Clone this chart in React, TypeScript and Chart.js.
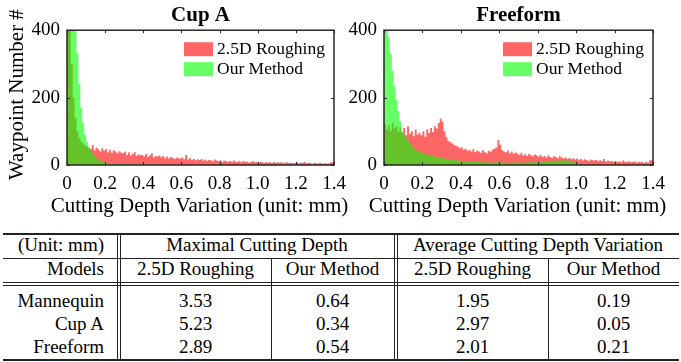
import React, { useEffect, useRef } from "react";
import { Chart, registerables } from "chart.js";

Chart.register(...registerables);

// ---------- data ----------
const BIN_WIDTH = 0.01; // histogram bin width (mm), bins start at 0
const X_TICK_STEP = 0.2;
const X_MAX = 1.4;
const Y_MAX = 400;
const Y_TICK_STEP = 200;

const SERIES_NAMES = ["2.5D Roughing", "Our Method"];
const CHART_TITLES = ["Cup A", "Freeform"];
const X_TITLE = "Cutting Depth Variation (unit: mm)";
const Y_TITLE = "Waypoint Number #";

// Cup A histograms (counts per 0.01 mm bin, 0 .. 1.4)
const cupRough = [
  600, 560, 470, 300, 200, 140, 100, 80, 70, 64,
  58, 55, 50, 48, 59, 44, 52, 47, 40, 50,
  42, 48, 38, 45, 36, 44, 40, 34, 41, 37,
  35, 40, 30, 37, 28, 33, 38, 27, 31, 29,
  30, 26, 33, 24, 29, 35, 22, 27, 25, 28,
  23, 27, 20, 25, 19, 24, 21, 18, 22, 20,
  19, 22, 17, 30, 16, 20, 15, 18, 14, 17,
  15, 18, 13, 16, 12, 15, 14, 11, 16, 13,
  12, 14, 10, 13, 11, 9, 12, 10, 13, 9,
  10, 11, 8, 12, 9, 10, 7, 9, 11, 8,
  9, 7, 10, 8, 6, 9, 7, 8, 6, 9,
  7, 8, 6, 9, 5, 7, 8, 6, 7, 5,
  6, 8, 5, 7, 6, 9, 5, 6, 7, 4,
  5, 6, 4, 7, 5, 4, 6, 3, 5, 8,
];
const cupOurs = [
  700, 800, 750, 650, 550, 450, 330, 240, 170, 125,
  90, 68, 55, 44, 35, 26, 20, 15, 12, 10,
  8, 7, 6, 6, 5, 5, 4, 4, 3, 4,
  3, 3, 2, 3, 2, 2, 2, 1, 2, 1,
  1, 1, 1, 2, 1, 1, 1, 0, 1, 1,
  1, 0, 1, 0, 1, 0, 0, 1, 0, 0,
  0, 0, 0, 0, 0, 0, 0, 0, 0, 0,
  0, 0, 0, 0, 0, 0, 0, 0, 0, 0,
  0, 0, 0, 0, 0, 0, 0, 0, 0, 0,
  0, 0, 0, 0, 0, 0, 0, 0, 0, 0,
  0, 0, 0, 0, 0, 0, 0, 0, 0, 0,
  0, 0, 0, 0, 0, 0, 0, 0, 0, 0,
  0, 0, 0, 0, 0, 0, 0, 0, 0, 0,
  0, 0, 0, 0, 0, 0, 0, 0, 0, 0,
];

// Freeform histograms
const freeRough = [
  110, 122, 105, 118, 100, 125, 108, 115, 98, 112,
  95, 110, 88, 115, 92, 100, 85, 105, 90, 96,
  88, 100, 84, 105, 95, 110, 98, 115, 108, 125,
  138, 128, 100, 82, 72, 68, 64, 60, 57, 54,
  50, 53, 46, 48, 42, 45, 40, 47, 38, 43,
  40, 36, 44, 38, 35, 42, 39, 45, 48, 52,
  74, 60, 44, 40, 38, 43, 35, 40, 33, 37,
  34, 30, 36, 28, 32, 27, 33, 29, 26, 31,
  28, 25, 30, 24, 27, 22, 29, 24, 21, 26,
  24, 20, 26, 22, 19, 23, 18, 21, 17, 20,
  16, 19, 14, 18, 13, 17, 15, 12, 16, 14,
  13, 15, 11, 14, 12, 18, 10, 13, 11, 12,
  10, 12, 9, 11, 8, 13, 10, 9, 11, 8,
  9, 11, 7, 10, 8, 9, 6, 10, 7, 14,
];
const freeOurs = [
  650, 560, 450, 380, 330, 280, 235, 195, 160, 130,
  100, 90, 80, 72, 64, 56, 50, 45, 42, 39,
  37, 35, 34, 31, 30, 28, 27, 25, 24, 23,
  21, 20, 19, 18, 17, 16, 15, 15, 14, 13,
  12, 11, 12, 10, 11, 10, 9, 10, 9, 9,
  9, 8, 9, 8, 7, 8, 7, 8, 7, 8,
  8, 7, 9, 7, 8, 7, 6, 7, 8, 7,
  7, 8, 6, 7, 8, 7, 9, 8, 7, 9,
  8, 9, 10, 8, 11, 9, 12, 10, 11, 13,
  12, 14, 11, 15, 13, 12, 14, 11, 13, 8,
  3, 2, 2, 1, 2, 1, 1, 1, 0, 1,
  1, 0, 1, 1, 0, 0, 1, 0, 0, 1,
  0, 0, 1, 0, 0, 0, 0, 1, 0, 0,
  0, 0, 0, 0, 1, 0, 0, 0, 0, 0,
];

// Table
const tableHeader1 = ["(Unit: mm)", "Maximal Cutting Depth", "Average Cutting Depth Variation"];
const tableHeader2 = ["Models", "2.5D Roughing", "Our Method", "2.5D Roughing", "Our Method"];
const models = ["Mannequin", "Cup A", "Freeform"];
const maxDepthRough = ["3.53", "5.23", "2.89"];
const maxDepthOurs = ["0.64", "0.34", "0.54"];
const avgVarRough = ["1.95", "2.97", "2.01"];
const avgVarOurs = ["0.19", "0.05", "0.21"];

// ---------- styles ----------
const FONT = "'Liberation Serif', 'Times New Roman', serif";
const RED = "rgba(255,0,0,0.6)";
const GREEN = "rgba(0,255,0,0.6)";
const AXIS_COLOR = "#262626";
const CANVAS_H = 225;

function makeFramePlugin(showYTitle: boolean) {
  return {
    id: "frame",
    afterDatasetsDraw(chart: any) {
      const { ctx, chartArea: a, scales } = chart;
      ctx.save();
      // legend inside the plot area
      const lx = a.right - 150;
      ctx.font = `17.5px ${FONT}`;
      ctx.textBaseline = "middle";
      ctx.textAlign = "left";
      chart.data.datasets.forEach((ds: any, i: number) => {
        const y = a.top + 12 + i * 20;
        ctx.fillStyle = "#fff";
        ctx.fillRect(lx, y, 29, 14);
        ctx.fillStyle = ds.backgroundColor;
        ctx.fillRect(lx, y, 29, 14);
        ctx.fillStyle = "#000";
        ctx.fillText(ds.label, lx + 33, y + 7.5);
      });
      // inward ticks
      ctx.strokeStyle = AXIS_COLOR;
      ctx.lineWidth = 1;
      ctx.beginPath();
      scales.x.ticks.forEach((t: any) => {
        const px = Math.round(scales.x.getPixelForValue(t.value)) + 0.5;
        ctx.moveTo(px, a.bottom);
        ctx.lineTo(px, a.bottom - 3);
        ctx.moveTo(px, a.top);
        ctx.lineTo(px, a.top + 3);
      });
      scales.y.ticks.forEach((t: any) => {
        const py = Math.round(scales.y.getPixelForValue(t.value)) + 0.5;
        ctx.moveTo(a.left, py);
        ctx.lineTo(a.left + 3, py);
        ctx.moveTo(a.right, py);
        ctx.lineTo(a.right - 3, py);
      });
      ctx.stroke();
      // box
      ctx.lineWidth = 1.5;
      ctx.strokeRect(a.left, a.top, a.right - a.left, a.bottom - a.top);
      // axis titles (drawn at natural width)
      ctx.fillStyle = "#000";
      ctx.font = `21px ${FONT}`;
      ctx.textAlign = "center";
      ctx.textBaseline = "middle";
      ctx.fillText(X_TITLE, (a.left + a.right) / 2 - 1, 206);
      if (showYTitle) {
        ctx.translate(17, (a.top + a.bottom) / 2 - 3);
        ctx.rotate(-Math.PI / 2);
        ctx.fillText(Y_TITLE, 0, 0);
      }
      ctx.restore();
    },
  };
}

type HistProps = {
  title: string;
  rough: number[];
  ours: number[];
  showYTitle: boolean;
  left: number;
  width: number;
  yAxisWidth: number;
  padRight: number;
};

// histogram outline: each bin starts at i*BIN_WIDTH, plus a closing edge at the end
const toSteps = (arr: number[]) =>
  arr
    .map((y, i) => ({ x: i * BIN_WIDTH, y }))
    .concat([{ x: arr.length * BIN_WIDTH, y: arr[arr.length - 1] }]);

function Histogram({ title, rough, ours, showYTitle, left, width, yAxisWidth, padRight }: HistProps) {
  const ref = useRef<HTMLCanvasElement>(null);
  useEffect(() => {
    const lineDs = {
      stepped: "after",
      fill: "origin",
      pointRadius: 0,
      borderWidth: 0,
      borderColor: "rgba(0,0,0,0)",
      tension: 0,
    };
    const chart = new Chart(ref.current as HTMLCanvasElement, {
      type: "line",
      data: {
        datasets: [
          { ...lineDs, label: SERIES_NAMES[0], data: toSteps(rough) as any, backgroundColor: RED, order: 2 },
          { ...lineDs, label: SERIES_NAMES[1], data: toSteps(ours) as any, backgroundColor: GREEN, order: 1 },
        ] as any,
      },
      options: {
        animation: false,
        responsive: false,
        devicePixelRatio: 1,
        layout: { padding: { left: 0, right: padRight, top: 0, bottom: 0 } },
        scales: {
          x: {
            type: "linear",
            min: 0,
            max: X_MAX,
            offset: false,
            grid: { display: false, drawTicks: false },
            border: { display: false },
            ticks: {
              stepSize: X_TICK_STEP,
              padding: 8,
              maxRotation: 0,
              autoSkip: false,
              color: "#000",
              font: { family: FONT, size: 19 },
            },
            title: { display: false },
            afterFit: (s: any) => {
              s.height = 60;
            },
          },
          y: {
            type: "linear",
            min: 0,
            max: Y_MAX,
            grid: { display: false, drawTicks: false },
            border: { display: false },
            ticks: {
              stepSize: Y_TICK_STEP,
              padding: 7,
              color: "#000",
              font: { family: FONT, size: 19 },
            },
            title: { display: false },
            afterFit: (s: any) => {
              s.width = yAxisWidth;
            },
          },
        },
        plugins: {
          legend: { display: false },
          tooltip: { enabled: false },
          filler: { propagate: false },
          title: {
            display: true,
            text: title,
            fullSize: false,
            color: "#000",
            font: { family: FONT, size: 21, weight: "bold" },
            padding: { top: 3, bottom: 2 },
          },
        },
      } as any,
      plugins: [makeFramePlugin(showYTitle)],
    });
    return () => chart.destroy();
  }, []);
  return (
    <canvas
      ref={ref}
      width={width}
      height={CANVAS_H}
      style={{ position: "absolute", left, top: 0, width, height: CANVAS_H }}
    />
  );
}

// ---------- table ----------
const LINE = "#222";
const T_LEFT = 3;
const T_RIGHT = 679;

function HLine({ y, w = 1 }: { y: number; w?: number }) {
  return (
    <div
      style={{ position: "absolute", left: T_LEFT, top: y - w / 2, width: T_RIGHT - T_LEFT, height: w, background: LINE }}
    />
  );
}
function VLine({ x, y1, y2 }: { x: number; y1: number; y2: number }) {
  return <div style={{ position: "absolute", left: x - 0.5, top: y1, width: 1, height: y2 - y1, background: LINE }} />;
}
function Cell({ x1, x2, cy, text, align = "center" }: { x1: number; x2: number; cy: number; text: string; align?: any }) {
  return (
    <div
      style={{
        position: "absolute",
        left: x1,
        top: cy - 10,
        width: x2 - x1,
        height: 20,
        lineHeight: "20px",
        fontSize: 19,
        fontFamily: FONT,
        textAlign: align,
        whiteSpace: "nowrap",
        color: "#000",
      }}
    >
      {text}
    </div>
  );
}

function ResultTable() {
  const top = 234;
  const bottom = 360;
  const rowY = [301, 323.5, 346.5];
  const cols = [
    [120, 271],
    [271, 394],
    [397, 548],
    [548, T_RIGHT],
  ];
  const colData = [maxDepthRough, maxDepthOurs, avgVarRough, avgVarOurs];
  return (
    <>
      <HLine y={top} w={1.5} />
      <HLine y={258} />
      <HLine y={282} />
      <HLine y={285.5} />
      <HLine y={bottom} w={1.5} />
      <VLine x={117} y1={top} y2={bottom} />
      <VLine x={120.5} y1={top} y2={bottom} />
      <VLine x={394} y1={top} y2={bottom} />
      <VLine x={397.5} y1={top} y2={bottom} />
      <VLine x={271} y1={258} y2={bottom} />
      <VLine x={548} y1={258} y2={bottom} />
      <Cell x1={0} x2={104} cy={245} text={tableHeader1[0]} align="right" />
      <Cell x1={120} x2={394} cy={245} text={tableHeader1[1]} />
      <Cell x1={397} x2={T_RIGHT} cy={245} text={tableHeader1[2]} />
      <Cell x1={0} x2={104} cy={269} text={tableHeader2[0]} align="right" />
      {cols.map((c, i) => (
        <Cell key={"h" + i} x1={c[0]} x2={c[1]} cy={269} text={tableHeader2[i + 1]} />
      ))}
      {models.map((m, r) => (
        <React.Fragment key={m}>
          <Cell x1={0} x2={104} cy={rowY[r]} text={m} align="right" />
          {cols.map((c, i) => (
            <Cell key={i} x1={c[0]} x2={c[1]} cy={rowY[r]} text={colData[i][r]} />
          ))}
        </React.Fragment>
      ))}
    </>
  );
}

export default function App() {
  return (
    <div style={{ position: "absolute", left: 0, top: 0, width: 681, height: 362, background: "#fff", overflow: "hidden" }}>
      <Histogram
        title={CHART_TITLES[0]}
        rough={cupRough}
        ours={cupOurs}
        showYTitle={true}
        left={0}
        width={355}
        yAxisWidth={67}
        padRight={21}
      />
      <Histogram
        title={CHART_TITLES[1]}
        rough={freeRough}
        ours={freeOurs}
        showYTitle={false}
        left={340}
        width={341}
        yAxisWidth={44}
        padRight={28}
      />
      <ResultTable />
    </div>
  );
}
